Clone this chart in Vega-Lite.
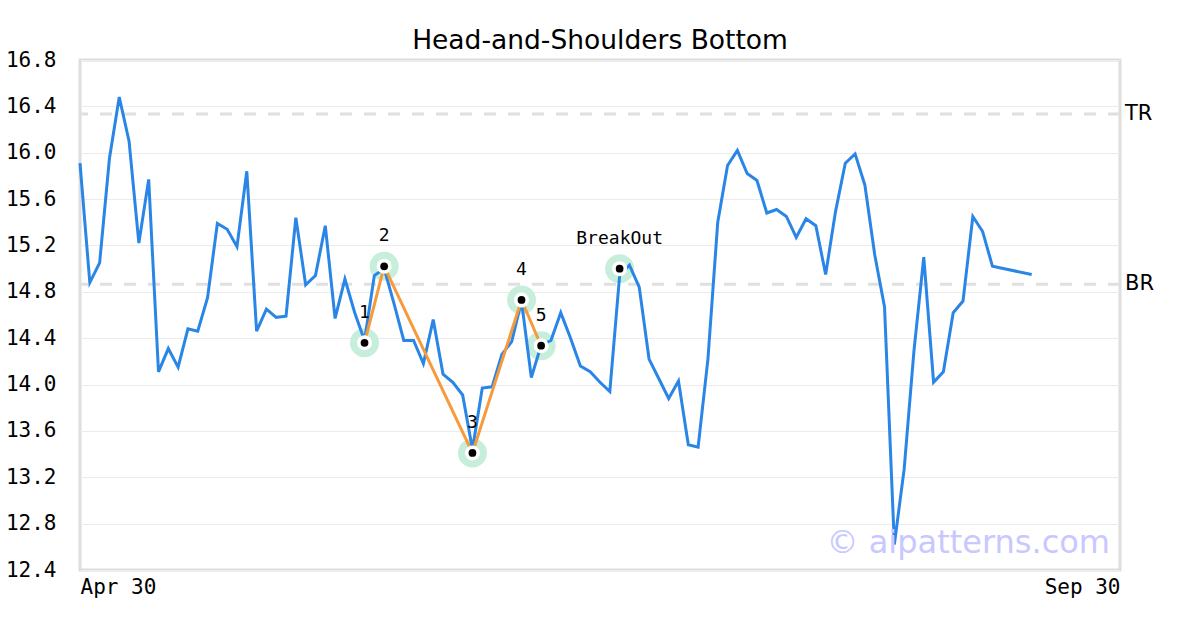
{
  "$schema": "https://vega.github.io/schema/vega-lite/v6.json",
  "width": 1040,
  "height": 510,
  "autosize": {"type": "none"},
  "padding": {"left": 80, "top": 60, "right": 80, "bottom": 60},
  "background": "white",
  "title": {
    "text": "Head-and-Shoulders Bottom",
    "font": "DejaVu Sans",
    "fontSize": 26.5,
    "fontWeight": "normal",
    "color": "#000000",
    "anchor": "middle",
    "offset": -5
  },
  "config": {
    "view": {"stroke": "#dddddd", "strokeWidth": 3}
  },
  "datasets": {
    "price": [
      {"i": 0, "v": 15.91}, {"i": 1, "v": 14.88}, {"i": 2, "v": 15.05}, {"i": 3, "v": 15.95},
      {"i": 4, "v": 16.48}, {"i": 5, "v": 16.10}, {"i": 6, "v": 15.22}, {"i": 7, "v": 15.77},
      {"i": 8, "v": 14.11}, {"i": 9, "v": 14.31}, {"i": 10, "v": 14.15}, {"i": 11, "v": 14.48},
      {"i": 12, "v": 14.46}, {"i": 13, "v": 14.75}, {"i": 14, "v": 15.39}, {"i": 15, "v": 15.34},
      {"i": 16, "v": 15.19}, {"i": 17, "v": 15.84}, {"i": 18, "v": 14.46}, {"i": 19, "v": 14.65},
      {"i": 20, "v": 14.58}, {"i": 21, "v": 14.59}, {"i": 22, "v": 15.44}, {"i": 23, "v": 14.86},
      {"i": 24, "v": 14.94}, {"i": 25, "v": 15.37}, {"i": 26, "v": 14.57}, {"i": 27, "v": 14.91},
      {"i": 28, "v": 14.62}, {"i": 29, "v": 14.38}, {"i": 30, "v": 14.94}, {"i": 31, "v": 15.00},
      {"i": 32, "v": 14.70}, {"i": 33, "v": 14.38}, {"i": 34, "v": 14.38}, {"i": 35, "v": 14.18},
      {"i": 36, "v": 14.56}, {"i": 37, "v": 14.09}, {"i": 38, "v": 14.02}, {"i": 39, "v": 13.91},
      {"i": 40, "v": 13.44}, {"i": 41, "v": 13.97}, {"i": 42, "v": 13.98}, {"i": 43, "v": 14.26},
      {"i": 44, "v": 14.37}, {"i": 45, "v": 14.72}, {"i": 46, "v": 14.06}, {"i": 47, "v": 14.34},
      {"i": 48, "v": 14.38}, {"i": 49, "v": 14.62}, {"i": 50, "v": 14.40}, {"i": 51, "v": 14.16},
      {"i": 52, "v": 14.11}, {"i": 53, "v": 14.02}, {"i": 54, "v": 13.94}, {"i": 55, "v": 14.94},
      {"i": 56, "v": 15.03}, {"i": 57, "v": 14.84}, {"i": 58, "v": 14.22}, {"i": 59, "v": 14.05},
      {"i": 60, "v": 13.88}, {"i": 61, "v": 14.03}, {"i": 62, "v": 13.48}, {"i": 63, "v": 13.46},
      {"i": 64, "v": 14.22}, {"i": 65, "v": 15.40}, {"i": 66, "v": 15.89}, {"i": 67, "v": 16.02},
      {"i": 68, "v": 15.82}, {"i": 69, "v": 15.76}, {"i": 70, "v": 15.48}, {"i": 71, "v": 15.51},
      {"i": 72, "v": 15.45}, {"i": 73, "v": 15.27}, {"i": 74, "v": 15.43}, {"i": 75, "v": 15.37},
      {"i": 76, "v": 14.95}, {"i": 77, "v": 15.49}, {"i": 78, "v": 15.91}, {"i": 79, "v": 15.99},
      {"i": 80, "v": 15.72}, {"i": 81, "v": 15.12}, {"i": 82, "v": 14.67}, {"i": 83, "v": 12.62},
      {"i": 84, "v": 13.27}, {"i": 85, "v": 14.29}, {"i": 86, "v": 15.10}, {"i": 87, "v": 14.02},
      {"i": 88, "v": 14.11}, {"i": 89, "v": 14.62}, {"i": 90, "v": 14.72}, {"i": 91, "v": 15.45},
      {"i": 92, "v": 15.32}, {"i": 93, "v": 15.02}, {"i": 97, "v": 14.95}
    ],
    "marks": [
      {"i": 29, "v": 14.36, "label": "1", "kind": "pattern"},
      {"i": 31, "v": 15.02, "label": "2", "kind": "pattern"},
      {"i": 40, "v": 13.41, "label": "3", "kind": "pattern"},
      {"i": 45, "v": 14.73, "label": "4", "kind": "pattern"},
      {"i": 47, "v": 14.335, "label": "5", "kind": "pattern"},
      {"i": 55, "v": 15.0, "label": "BreakOut", "kind": "breakout"}
    ],
    "refs": [
      {"name": "TR", "v": 16.335},
      {"name": "BR", "v": 14.865}
    ],
    "wm": [{"text": "© aipatterns.com"}]
  },
  "resolve": {"scale": {"x": "shared", "y": "shared"}},
  "layer": [
    {
      "data": {"name": "refs"},
      "mark": {"type": "rule", "color": "#e0e0e0", "strokeWidth": 3, "strokeDash": [12, 12]},
      "encoding": {
        "y": {
          "field": "v",
          "type": "quantitative",
          "scale": {"domain": [12.4, 16.8], "nice": false, "zero": false},
          "axis": {
            "values": [12.4, 12.8, 13.2, 13.6, 14.0, 14.4, 14.8, 15.2, 15.6, 16.0, 16.4, 16.8],
            "labelExpr": "format(datum.value, '.1f')",
            "labelFont": "DejaVu Sans Mono",
            "labelFontSize": 21,
            "labelColor": "#000000",
            "labelPadding": 24,
            "ticks": false,
            "domain": false,
            "grid": true,
            "gridColor": "#ebebeb",
            "gridWidth": 1,
            "title": null
          }
        }
      }
    },
    {
      "data": {"name": "marks"},
      "mark": {"type": "point", "shape": "circle", "filled": true, "size": 841, "color": "#c6eedb", "opacity": 1},
      "encoding": {
        "x": {
          "field": "i",
          "type": "quantitative",
          "scale": {"domain": [0, 106], "nice": false, "zero": false},
          "axis": {
            "values": [0, 106],
            "labelExpr": "datum.value == 0 ? 'Apr 30' : 'Sep 30'",
            "labelFlush": true,
            "labelFont": "DejaVu Sans Mono",
            "labelFontSize": 21,
            "labelColor": "#000000",
            "labelPadding": 6,
            "ticks": false,
            "domain": false,
            "grid": false,
            "title": null
          }
        },
        "y": {"field": "v", "type": "quantitative"}
      }
    },
    {
      "data": {"name": "price"},
      "mark": {"type": "line", "color": "#2a86e6", "strokeWidth": 3},
      "encoding": {
        "x": {"field": "i", "type": "quantitative"},
        "y": {"field": "v", "type": "quantitative"}
      }
    },
    {
      "data": {"name": "marks"},
      "transform": [{"filter": "datum.kind == 'pattern'"}],
      "mark": {"type": "line", "color": "#f79a3c", "strokeWidth": 3},
      "encoding": {
        "x": {"field": "i", "type": "quantitative"},
        "y": {"field": "v", "type": "quantitative"}
      }
    },
    {
      "data": {"name": "marks"},
      "mark": {"type": "point", "shape": "circle", "filled": true, "size": 225, "color": "#ffffff", "opacity": 1},
      "encoding": {
        "x": {"field": "i", "type": "quantitative"},
        "y": {"field": "v", "type": "quantitative"}
      }
    },
    {
      "data": {"name": "marks"},
      "mark": {"type": "point", "shape": "circle", "filled": true, "size": 60, "color": "#000000", "opacity": 1},
      "encoding": {
        "x": {"field": "i", "type": "quantitative"},
        "y": {"field": "v", "type": "quantitative"}
      }
    },
    {
      "data": {"name": "marks"},
      "mark": {"type": "text", "align": "center", "baseline": "middle", "dy": -30, "font": "DejaVu Sans Mono", "fontSize": 18, "color": "#000000"},
      "encoding": {
        "x": {"field": "i", "type": "quantitative"},
        "y": {"field": "v", "type": "quantitative"},
        "text": {"field": "label"}
      }
    },
    {
      "data": {"name": "refs"},
      "mark": {"type": "text", "align": "left", "baseline": "middle", "dx": 5, "font": "DejaVu Sans", "fontSize": 21, "color": "#000000"},
      "encoding": {
        "x": {"datum": 106, "type": "quantitative"},
        "y": {"field": "v", "type": "quantitative"},
        "text": {"field": "name"}
      }
    },
    {
      "data": {"name": "wm"},
      "mark": {"type": "text", "align": "right", "baseline": "alphabetic", "dx": -10, "dy": -17, "font": "DejaVu Sans", "fontSize": 32, "color": "#c8c8ff"},
      "encoding": {
        "x": {"datum": 106, "type": "quantitative"},
        "y": {"datum": 12.4, "type": "quantitative"},
        "text": {"field": "text"}
      }
    }
  ]
}
